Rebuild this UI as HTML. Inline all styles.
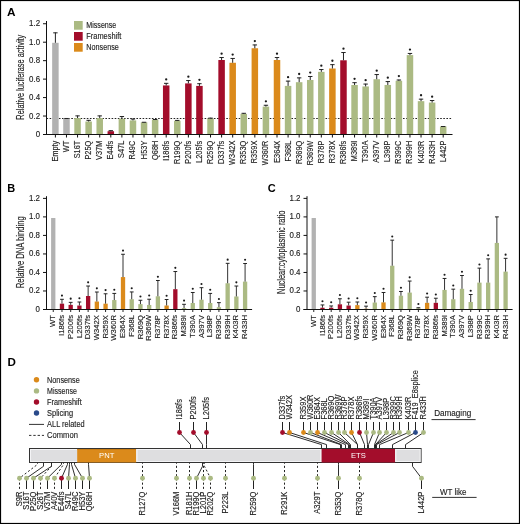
<!DOCTYPE html>
<html><head><meta charset="utf-8"><style>
html,body{margin:0;padding:0;background:#fff;}
body{width:520px;height:524px;overflow:hidden;}
svg{display:block;font-family:"Liberation Sans", sans-serif;will-change:transform;}
text{stroke-width:0.14px;}
</style></head><body>
<svg width="520" height="524" viewBox="0 0 520 524">
<rect x="0" y="0" width="520" height="524" fill="#fff"/>
<text x="6.90" y="16.40" font-size="11.8" text-anchor="start" font-weight="bold" fill="#000" stroke="none">A</text>
<line x1="46.50" y1="21.00" x2="46.50" y2="135.00" stroke="#111" stroke-width="1"/>
<line x1="43.00" y1="134.50" x2="46.50" y2="134.50" stroke="#111" stroke-width="1"/>
<text x="40.10" y="137.00" font-size="8.6" text-anchor="end" font-weight="normal" fill="#222" stroke="#222" textLength="4.39" lengthAdjust="spacingAndGlyphs">0</text>
<line x1="43.00" y1="116.04" x2="46.50" y2="116.04" stroke="#111" stroke-width="1"/>
<text x="40.10" y="118.54" font-size="8.6" text-anchor="end" font-weight="normal" fill="#222" stroke="#222" textLength="10.98" lengthAdjust="spacingAndGlyphs">0.2</text>
<line x1="43.00" y1="97.58" x2="46.50" y2="97.58" stroke="#111" stroke-width="1"/>
<text x="40.10" y="100.08" font-size="8.6" text-anchor="end" font-weight="normal" fill="#222" stroke="#222" textLength="10.98" lengthAdjust="spacingAndGlyphs">0.4</text>
<line x1="43.00" y1="79.12" x2="46.50" y2="79.12" stroke="#111" stroke-width="1"/>
<text x="40.10" y="81.62" font-size="8.6" text-anchor="end" font-weight="normal" fill="#222" stroke="#222" textLength="10.98" lengthAdjust="spacingAndGlyphs">0.6</text>
<line x1="43.00" y1="60.66" x2="46.50" y2="60.66" stroke="#111" stroke-width="1"/>
<text x="40.10" y="63.16" font-size="8.6" text-anchor="end" font-weight="normal" fill="#222" stroke="#222" textLength="10.98" lengthAdjust="spacingAndGlyphs">0.8</text>
<line x1="43.00" y1="42.20" x2="46.50" y2="42.20" stroke="#111" stroke-width="1"/>
<text x="40.10" y="44.70" font-size="8.6" text-anchor="end" font-weight="normal" fill="#222" stroke="#222" textLength="10.98" lengthAdjust="spacingAndGlyphs">1.0</text>
<line x1="43.00" y1="23.74" x2="46.50" y2="23.74" stroke="#111" stroke-width="1"/>
<text x="40.10" y="26.24" font-size="8.6" text-anchor="end" font-weight="normal" fill="#222" stroke="#222" textLength="10.98" lengthAdjust="spacingAndGlyphs">1.2</text>
<text transform="translate(24.20,77.20) rotate(-90)" font-size="10" text-anchor="middle" font-weight="normal" fill="#222" stroke="#222" textLength="85" lengthAdjust="spacingAndGlyphs">Relative luciferase activity</text>
<line x1="46.50" y1="118.50" x2="452.00" y2="118.50" stroke="#222" stroke-width="1" stroke-dasharray="1.6 1.5"/>
<rect x="52.15" y="42.80" width="6.50" height="91.20" fill="#B2B2B2"/>
<line x1="55.40" y1="32.53" x2="55.40" y2="42.80" stroke="#222" stroke-width="1"/>
<line x1="53.20" y1="32.83" x2="57.60" y2="32.83" stroke="#222" stroke-width="1"/>
<line x1="55.40" y1="134.50" x2="55.40" y2="137.50" stroke="#111" stroke-width="1"/>
<text transform="translate(57.90,140.70) rotate(-90)" font-size="8.8" text-anchor="end" font-weight="normal" fill="#222" stroke="#222" textLength="20.91" lengthAdjust="spacingAndGlyphs">Empty</text>
<rect x="63.23" y="118.46" width="6.50" height="15.54" fill="#B2B2B2"/>
<line x1="64.28" y1="118.48" x2="68.68" y2="118.48" stroke="#222" stroke-width="1"/>
<line x1="66.48" y1="134.50" x2="66.48" y2="137.50" stroke="#111" stroke-width="1"/>
<text transform="translate(68.98,140.70) rotate(-90)" font-size="8.8" text-anchor="end" font-weight="normal" fill="#222" stroke="#222" textLength="11.47" lengthAdjust="spacingAndGlyphs">WT</text>
<rect x="74.31" y="118.09" width="6.50" height="15.91" fill="#ABBA83"/>
<line x1="77.56" y1="115.59" x2="77.56" y2="118.09" stroke="#222" stroke-width="1"/>
<line x1="75.36" y1="115.89" x2="79.76" y2="115.89" stroke="#222" stroke-width="1"/>
<line x1="77.56" y1="134.50" x2="77.56" y2="137.50" stroke="#111" stroke-width="1"/>
<text transform="translate(80.06,140.70) rotate(-90)" font-size="8.8" text-anchor="end" font-weight="normal" fill="#222" stroke="#222" textLength="17.64" lengthAdjust="spacingAndGlyphs">S16T</text>
<rect x="85.39" y="121.51" width="6.50" height="12.49" fill="#ABBA83"/>
<line x1="88.64" y1="120.03" x2="88.64" y2="121.51" stroke="#222" stroke-width="1"/>
<line x1="86.44" y1="120.33" x2="90.84" y2="120.33" stroke="#222" stroke-width="1"/>
<line x1="88.64" y1="134.50" x2="88.64" y2="137.50" stroke="#111" stroke-width="1"/>
<text transform="translate(91.14,140.70) rotate(-90)" font-size="8.8" text-anchor="end" font-weight="normal" fill="#222" stroke="#222" textLength="18.87" lengthAdjust="spacingAndGlyphs">P25Q</text>
<rect x="96.47" y="118.09" width="6.50" height="15.91" fill="#ABBA83"/>
<line x1="99.72" y1="115.59" x2="99.72" y2="118.09" stroke="#222" stroke-width="1"/>
<line x1="97.52" y1="115.89" x2="101.92" y2="115.89" stroke="#222" stroke-width="1"/>
<line x1="99.72" y1="134.50" x2="99.72" y2="137.50" stroke="#111" stroke-width="1"/>
<text transform="translate(102.22,140.70) rotate(-90)" font-size="8.8" text-anchor="end" font-weight="normal" fill="#222" stroke="#222" textLength="19.28" lengthAdjust="spacingAndGlyphs">V37M</text>
<rect x="107.55" y="131.22" width="6.50" height="2.78" fill="#A30D2B"/>
<line x1="110.80" y1="130.39" x2="110.80" y2="131.22" stroke="#222" stroke-width="1"/>
<line x1="108.60" y1="130.69" x2="113.00" y2="130.69" stroke="#222" stroke-width="1"/>
<line x1="110.80" y1="134.50" x2="110.80" y2="137.50" stroke="#111" stroke-width="1"/>
<text transform="translate(113.30,140.70) rotate(-90)" font-size="8.8" text-anchor="end" font-weight="normal" fill="#222" stroke="#222" textLength="18.87" lengthAdjust="spacingAndGlyphs">E44fs</text>
<rect x="118.63" y="118.74" width="6.50" height="15.26" fill="#ABBA83"/>
<line x1="121.88" y1="116.24" x2="121.88" y2="118.74" stroke="#222" stroke-width="1"/>
<line x1="119.68" y1="116.54" x2="124.08" y2="116.54" stroke="#222" stroke-width="1"/>
<line x1="121.88" y1="134.50" x2="121.88" y2="137.50" stroke="#111" stroke-width="1"/>
<text transform="translate(124.38,140.70) rotate(-90)" font-size="8.8" text-anchor="end" font-weight="normal" fill="#222" stroke="#222" textLength="17.23" lengthAdjust="spacingAndGlyphs">S47L</text>
<rect x="129.71" y="120.40" width="6.50" height="13.60" fill="#ABBA83"/>
<line x1="132.96" y1="118.74" x2="132.96" y2="120.40" stroke="#222" stroke-width="1"/>
<line x1="130.76" y1="119.04" x2="135.16" y2="119.04" stroke="#222" stroke-width="1"/>
<line x1="132.96" y1="134.50" x2="132.96" y2="137.50" stroke="#111" stroke-width="1"/>
<text transform="translate(135.46,140.70) rotate(-90)" font-size="8.8" text-anchor="end" font-weight="normal" fill="#222" stroke="#222" textLength="18.87" lengthAdjust="spacingAndGlyphs">R49C</text>
<rect x="140.79" y="122.34" width="6.50" height="11.66" fill="#ABBA83"/>
<line x1="144.04" y1="121.97" x2="144.04" y2="122.34" stroke="#222" stroke-width="1"/>
<line x1="141.84" y1="122.27" x2="146.24" y2="122.27" stroke="#222" stroke-width="1"/>
<line x1="144.04" y1="134.50" x2="144.04" y2="137.50" stroke="#111" stroke-width="1"/>
<text transform="translate(146.54,140.70) rotate(-90)" font-size="8.8" text-anchor="end" font-weight="normal" fill="#222" stroke="#222" textLength="18.46" lengthAdjust="spacingAndGlyphs">H53Y</text>
<rect x="151.87" y="119.66" width="6.50" height="14.34" fill="#ABBA83"/>
<line x1="155.12" y1="119.20" x2="155.12" y2="119.66" stroke="#222" stroke-width="1"/>
<line x1="152.92" y1="119.50" x2="157.32" y2="119.50" stroke="#222" stroke-width="1"/>
<line x1="155.12" y1="134.50" x2="155.12" y2="137.50" stroke="#111" stroke-width="1"/>
<text transform="translate(157.62,140.70) rotate(-90)" font-size="8.8" text-anchor="end" font-weight="normal" fill="#222" stroke="#222" textLength="19.28" lengthAdjust="spacingAndGlyphs">Q68H</text>
<rect x="162.95" y="85.44" width="6.50" height="48.56" fill="#A30D2B"/>
<line x1="166.20" y1="83.03" x2="166.20" y2="85.44" stroke="#222" stroke-width="1"/>
<line x1="164.00" y1="83.33" x2="168.40" y2="83.33" stroke="#222" stroke-width="1"/>
<circle cx="166.20" cy="79.43" r="1.15" fill="#1a1a1a"/>
<line x1="166.20" y1="134.50" x2="166.20" y2="137.50" stroke="#111" stroke-width="1"/>
<text transform="translate(168.70,140.70) rotate(-90)" font-size="8.8" text-anchor="end" font-weight="normal" fill="#222" stroke="#222" textLength="20.1" lengthAdjust="spacingAndGlyphs">I186fs</text>
<rect x="174.03" y="120.77" width="6.50" height="13.23" fill="#ABBA83"/>
<line x1="177.28" y1="120.12" x2="177.28" y2="120.77" stroke="#222" stroke-width="1"/>
<line x1="175.08" y1="120.42" x2="179.48" y2="120.42" stroke="#222" stroke-width="1"/>
<line x1="177.28" y1="134.50" x2="177.28" y2="137.50" stroke="#111" stroke-width="1"/>
<text transform="translate(179.78,140.70) rotate(-90)" font-size="8.8" text-anchor="end" font-weight="normal" fill="#222" stroke="#222" textLength="23.38" lengthAdjust="spacingAndGlyphs">R199Q</text>
<rect x="185.11" y="83.40" width="6.50" height="50.60" fill="#A30D2B"/>
<line x1="188.36" y1="80.26" x2="188.36" y2="83.40" stroke="#222" stroke-width="1"/>
<line x1="186.16" y1="80.56" x2="190.56" y2="80.56" stroke="#222" stroke-width="1"/>
<circle cx="188.36" cy="76.66" r="1.15" fill="#1a1a1a"/>
<line x1="188.36" y1="134.50" x2="188.36" y2="137.50" stroke="#111" stroke-width="1"/>
<text transform="translate(190.86,140.70) rotate(-90)" font-size="8.8" text-anchor="end" font-weight="normal" fill="#222" stroke="#222" textLength="22.97" lengthAdjust="spacingAndGlyphs">P200fs</text>
<rect x="196.19" y="85.90" width="6.50" height="48.10" fill="#A30D2B"/>
<line x1="199.44" y1="83.40" x2="199.44" y2="85.90" stroke="#222" stroke-width="1"/>
<line x1="197.24" y1="83.70" x2="201.64" y2="83.70" stroke="#222" stroke-width="1"/>
<circle cx="199.44" cy="79.80" r="1.15" fill="#1a1a1a"/>
<line x1="199.44" y1="134.50" x2="199.44" y2="137.50" stroke="#111" stroke-width="1"/>
<text transform="translate(201.94,140.70) rotate(-90)" font-size="8.8" text-anchor="end" font-weight="normal" fill="#222" stroke="#222" textLength="22.16" lengthAdjust="spacingAndGlyphs">L205fs</text>
<rect x="207.27" y="118.46" width="6.50" height="15.54" fill="#ABBA83"/>
<line x1="210.52" y1="117.81" x2="210.52" y2="118.46" stroke="#222" stroke-width="1"/>
<line x1="208.32" y1="118.11" x2="212.72" y2="118.11" stroke="#222" stroke-width="1"/>
<line x1="210.52" y1="134.50" x2="210.52" y2="137.50" stroke="#111" stroke-width="1"/>
<text transform="translate(213.02,140.70) rotate(-90)" font-size="8.8" text-anchor="end" font-weight="normal" fill="#222" stroke="#222" textLength="23.38" lengthAdjust="spacingAndGlyphs">R259Q</text>
<rect x="218.35" y="60.00" width="6.50" height="74.00" fill="#A30D2B"/>
<line x1="221.60" y1="57.23" x2="221.60" y2="60.00" stroke="#222" stroke-width="1"/>
<line x1="219.40" y1="57.53" x2="223.80" y2="57.53" stroke="#222" stroke-width="1"/>
<circle cx="221.60" cy="53.63" r="1.15" fill="#1a1a1a"/>
<line x1="221.60" y1="134.50" x2="221.60" y2="137.50" stroke="#111" stroke-width="1"/>
<text transform="translate(224.10,140.70) rotate(-90)" font-size="8.8" text-anchor="end" font-weight="normal" fill="#222" stroke="#222" textLength="23.38" lengthAdjust="spacingAndGlyphs">D337fs</text>
<rect x="229.43" y="62.77" width="6.50" height="71.23" fill="#DB8A1B"/>
<line x1="232.68" y1="58.15" x2="232.68" y2="62.77" stroke="#222" stroke-width="1"/>
<line x1="230.48" y1="58.45" x2="234.88" y2="58.45" stroke="#222" stroke-width="1"/>
<circle cx="232.68" cy="54.55" r="1.15" fill="#1a1a1a"/>
<line x1="232.68" y1="134.50" x2="232.68" y2="137.50" stroke="#111" stroke-width="1"/>
<text transform="translate(235.18,140.70) rotate(-90)" font-size="8.8" text-anchor="end" font-weight="normal" fill="#222" stroke="#222" textLength="24.2" lengthAdjust="spacingAndGlyphs">W342X</text>
<rect x="240.51" y="113.84" width="6.50" height="20.16" fill="#ABBA83"/>
<line x1="243.76" y1="113.00" x2="243.76" y2="113.84" stroke="#222" stroke-width="1"/>
<line x1="241.56" y1="113.30" x2="245.96" y2="113.30" stroke="#222" stroke-width="1"/>
<line x1="243.76" y1="134.50" x2="243.76" y2="137.50" stroke="#111" stroke-width="1"/>
<text transform="translate(246.26,140.70) rotate(-90)" font-size="8.8" text-anchor="end" font-weight="normal" fill="#222" stroke="#222" textLength="23.38" lengthAdjust="spacingAndGlyphs">R353Q</text>
<rect x="251.59" y="48.25" width="6.50" height="85.75" fill="#DB8A1B"/>
<line x1="254.84" y1="44.64" x2="254.84" y2="48.25" stroke="#222" stroke-width="1"/>
<line x1="252.64" y1="44.94" x2="257.04" y2="44.94" stroke="#222" stroke-width="1"/>
<circle cx="254.84" cy="41.04" r="1.15" fill="#1a1a1a"/>
<line x1="254.84" y1="134.50" x2="254.84" y2="137.50" stroke="#111" stroke-width="1"/>
<text transform="translate(257.34,140.70) rotate(-90)" font-size="8.8" text-anchor="end" font-weight="normal" fill="#222" stroke="#222" textLength="22.56" lengthAdjust="spacingAndGlyphs">R359X</text>
<rect x="262.67" y="106.62" width="6.50" height="27.38" fill="#ABBA83"/>
<line x1="265.92" y1="104.95" x2="265.92" y2="106.62" stroke="#222" stroke-width="1"/>
<line x1="263.72" y1="105.25" x2="268.12" y2="105.25" stroke="#222" stroke-width="1"/>
<circle cx="265.92" cy="101.36" r="1.15" fill="#1a1a1a"/>
<line x1="265.92" y1="134.50" x2="265.92" y2="137.50" stroke="#111" stroke-width="1"/>
<text transform="translate(268.42,140.70) rotate(-90)" font-size="8.8" text-anchor="end" font-weight="normal" fill="#222" stroke="#222" textLength="24.61" lengthAdjust="spacingAndGlyphs">W360R</text>
<rect x="273.75" y="60.00" width="6.50" height="74.00" fill="#DB8A1B"/>
<line x1="277.00" y1="57.23" x2="277.00" y2="60.00" stroke="#222" stroke-width="1"/>
<line x1="274.80" y1="57.53" x2="279.20" y2="57.53" stroke="#222" stroke-width="1"/>
<circle cx="277.00" cy="53.63" r="1.15" fill="#1a1a1a"/>
<line x1="277.00" y1="134.50" x2="277.00" y2="137.50" stroke="#111" stroke-width="1"/>
<text transform="translate(279.50,140.70) rotate(-90)" font-size="8.8" text-anchor="end" font-weight="normal" fill="#222" stroke="#222" textLength="22.16" lengthAdjust="spacingAndGlyphs">E364X</text>
<rect x="284.83" y="85.90" width="6.50" height="48.10" fill="#ABBA83"/>
<line x1="288.08" y1="80.81" x2="288.08" y2="85.90" stroke="#222" stroke-width="1"/>
<line x1="285.88" y1="81.11" x2="290.28" y2="81.11" stroke="#222" stroke-width="1"/>
<circle cx="288.08" cy="77.21" r="1.15" fill="#1a1a1a"/>
<line x1="288.08" y1="134.50" x2="288.08" y2="137.50" stroke="#111" stroke-width="1"/>
<text transform="translate(290.58,140.70) rotate(-90)" font-size="8.8" text-anchor="end" font-weight="normal" fill="#222" stroke="#222" textLength="20.92" lengthAdjust="spacingAndGlyphs">F368L</text>
<rect x="295.91" y="82.20" width="6.50" height="51.80" fill="#ABBA83"/>
<line x1="299.16" y1="77.58" x2="299.16" y2="82.20" stroke="#222" stroke-width="1"/>
<line x1="296.96" y1="77.88" x2="301.36" y2="77.88" stroke="#222" stroke-width="1"/>
<circle cx="299.16" cy="73.98" r="1.15" fill="#1a1a1a"/>
<line x1="299.16" y1="134.50" x2="299.16" y2="137.50" stroke="#111" stroke-width="1"/>
<text transform="translate(301.66,140.70) rotate(-90)" font-size="8.8" text-anchor="end" font-weight="normal" fill="#222" stroke="#222" textLength="23.38" lengthAdjust="spacingAndGlyphs">R369Q</text>
<rect x="306.99" y="79.98" width="6.50" height="54.02" fill="#ABBA83"/>
<line x1="310.24" y1="76.19" x2="310.24" y2="79.98" stroke="#222" stroke-width="1"/>
<line x1="308.04" y1="76.49" x2="312.44" y2="76.49" stroke="#222" stroke-width="1"/>
<circle cx="310.24" cy="72.59" r="1.15" fill="#1a1a1a"/>
<line x1="310.24" y1="134.50" x2="310.24" y2="137.50" stroke="#111" stroke-width="1"/>
<text transform="translate(312.74,140.70) rotate(-90)" font-size="8.8" text-anchor="end" font-weight="normal" fill="#222" stroke="#222" textLength="24.61" lengthAdjust="spacingAndGlyphs">R369W</text>
<rect x="318.07" y="71.84" width="6.50" height="62.16" fill="#ABBA83"/>
<line x1="321.32" y1="69.25" x2="321.32" y2="71.84" stroke="#222" stroke-width="1"/>
<line x1="319.12" y1="69.55" x2="323.52" y2="69.55" stroke="#222" stroke-width="1"/>
<circle cx="321.32" cy="65.65" r="1.15" fill="#1a1a1a"/>
<line x1="321.32" y1="134.50" x2="321.32" y2="137.50" stroke="#111" stroke-width="1"/>
<text transform="translate(323.82,140.70) rotate(-90)" font-size="8.8" text-anchor="end" font-weight="normal" fill="#222" stroke="#222" textLength="22.56" lengthAdjust="spacingAndGlyphs">R378P</text>
<rect x="329.15" y="68.51" width="6.50" height="65.49" fill="#DB8A1B"/>
<line x1="332.40" y1="64.35" x2="332.40" y2="68.51" stroke="#222" stroke-width="1"/>
<line x1="330.20" y1="64.65" x2="334.60" y2="64.65" stroke="#222" stroke-width="1"/>
<circle cx="332.40" cy="60.75" r="1.15" fill="#1a1a1a"/>
<line x1="332.40" y1="134.50" x2="332.40" y2="137.50" stroke="#111" stroke-width="1"/>
<text transform="translate(334.90,140.70) rotate(-90)" font-size="8.8" text-anchor="end" font-weight="normal" fill="#222" stroke="#222" textLength="22.56" lengthAdjust="spacingAndGlyphs">R378X</text>
<rect x="340.23" y="60.28" width="6.50" height="73.72" fill="#A30D2B"/>
<line x1="343.48" y1="52.23" x2="343.48" y2="60.28" stroke="#222" stroke-width="1"/>
<line x1="341.28" y1="52.53" x2="345.68" y2="52.53" stroke="#222" stroke-width="1"/>
<circle cx="343.48" cy="48.63" r="1.15" fill="#1a1a1a"/>
<line x1="343.48" y1="134.50" x2="343.48" y2="137.50" stroke="#111" stroke-width="1"/>
<text transform="translate(345.98,140.70) rotate(-90)" font-size="8.8" text-anchor="end" font-weight="normal" fill="#222" stroke="#222" textLength="23.38" lengthAdjust="spacingAndGlyphs">R386fs</text>
<rect x="351.31" y="84.97" width="6.50" height="49.03" fill="#ABBA83"/>
<line x1="354.56" y1="82.38" x2="354.56" y2="84.97" stroke="#222" stroke-width="1"/>
<line x1="352.36" y1="82.68" x2="356.76" y2="82.68" stroke="#222" stroke-width="1"/>
<circle cx="354.56" cy="78.78" r="1.15" fill="#1a1a1a"/>
<line x1="354.56" y1="134.50" x2="354.56" y2="137.50" stroke="#111" stroke-width="1"/>
<text transform="translate(357.06,140.70) rotate(-90)" font-size="8.8" text-anchor="end" font-weight="normal" fill="#222" stroke="#222" textLength="20.51" lengthAdjust="spacingAndGlyphs">M389I</text>
<rect x="362.39" y="86.45" width="6.50" height="47.55" fill="#ABBA83"/>
<line x1="365.64" y1="83.77" x2="365.64" y2="86.45" stroke="#222" stroke-width="1"/>
<line x1="363.44" y1="84.07" x2="367.84" y2="84.07" stroke="#222" stroke-width="1"/>
<circle cx="365.64" cy="80.17" r="1.15" fill="#1a1a1a"/>
<line x1="365.64" y1="134.50" x2="365.64" y2="137.50" stroke="#111" stroke-width="1"/>
<text transform="translate(368.14,140.70) rotate(-90)" font-size="8.8" text-anchor="end" font-weight="normal" fill="#222" stroke="#222" textLength="21.74" lengthAdjust="spacingAndGlyphs">T390A</text>
<rect x="373.47" y="79.24" width="6.50" height="54.76" fill="#ABBA83"/>
<line x1="376.72" y1="74.25" x2="376.72" y2="79.24" stroke="#222" stroke-width="1"/>
<line x1="374.52" y1="74.55" x2="378.92" y2="74.55" stroke="#222" stroke-width="1"/>
<circle cx="376.72" cy="70.65" r="1.15" fill="#1a1a1a"/>
<line x1="376.72" y1="134.50" x2="376.72" y2="137.50" stroke="#111" stroke-width="1"/>
<text transform="translate(379.22,140.70) rotate(-90)" font-size="8.8" text-anchor="end" font-weight="normal" fill="#222" stroke="#222" textLength="22.16" lengthAdjust="spacingAndGlyphs">A397V</text>
<rect x="384.55" y="84.97" width="6.50" height="49.03" fill="#ABBA83"/>
<line x1="387.80" y1="81.28" x2="387.80" y2="84.97" stroke="#222" stroke-width="1"/>
<line x1="385.60" y1="81.58" x2="390.00" y2="81.58" stroke="#222" stroke-width="1"/>
<circle cx="387.80" cy="77.68" r="1.15" fill="#1a1a1a"/>
<line x1="387.80" y1="134.50" x2="387.80" y2="137.50" stroke="#111" stroke-width="1"/>
<text transform="translate(390.30,140.70) rotate(-90)" font-size="8.8" text-anchor="end" font-weight="normal" fill="#222" stroke="#222" textLength="21.34" lengthAdjust="spacingAndGlyphs">L398P</text>
<rect x="395.63" y="80.81" width="6.50" height="53.19" fill="#ABBA83"/>
<line x1="398.88" y1="79.70" x2="398.88" y2="80.81" stroke="#222" stroke-width="1"/>
<line x1="396.68" y1="80.00" x2="401.08" y2="80.00" stroke="#222" stroke-width="1"/>
<circle cx="398.88" cy="76.10" r="1.15" fill="#1a1a1a"/>
<line x1="398.88" y1="134.50" x2="398.88" y2="137.50" stroke="#111" stroke-width="1"/>
<text transform="translate(401.38,140.70) rotate(-90)" font-size="8.8" text-anchor="end" font-weight="normal" fill="#222" stroke="#222" textLength="22.97" lengthAdjust="spacingAndGlyphs">R399C</text>
<rect x="406.71" y="55.10" width="6.50" height="78.90" fill="#ABBA83"/>
<line x1="409.96" y1="53.16" x2="409.96" y2="55.10" stroke="#222" stroke-width="1"/>
<line x1="407.76" y1="53.45" x2="412.16" y2="53.45" stroke="#222" stroke-width="1"/>
<circle cx="409.96" cy="49.55" r="1.15" fill="#1a1a1a"/>
<line x1="409.96" y1="134.50" x2="409.96" y2="137.50" stroke="#111" stroke-width="1"/>
<text transform="translate(412.46,140.70) rotate(-90)" font-size="8.8" text-anchor="end" font-weight="normal" fill="#222" stroke="#222" textLength="22.97" lengthAdjust="spacingAndGlyphs">R399H</text>
<rect x="417.79" y="101.16" width="6.50" height="32.84" fill="#ABBA83"/>
<line x1="421.04" y1="98.85" x2="421.04" y2="101.16" stroke="#222" stroke-width="1"/>
<line x1="418.84" y1="99.15" x2="423.24" y2="99.15" stroke="#222" stroke-width="1"/>
<circle cx="421.04" cy="95.25" r="1.15" fill="#1a1a1a"/>
<line x1="421.04" y1="134.50" x2="421.04" y2="137.50" stroke="#111" stroke-width="1"/>
<text transform="translate(423.54,140.70) rotate(-90)" font-size="8.8" text-anchor="end" font-weight="normal" fill="#222" stroke="#222" textLength="22.56" lengthAdjust="spacingAndGlyphs">K403R</text>
<rect x="428.87" y="102.55" width="6.50" height="31.45" fill="#ABBA83"/>
<line x1="432.12" y1="100.24" x2="432.12" y2="102.55" stroke="#222" stroke-width="1"/>
<line x1="429.92" y1="100.54" x2="434.32" y2="100.54" stroke="#222" stroke-width="1"/>
<circle cx="432.12" cy="96.64" r="1.15" fill="#1a1a1a"/>
<line x1="432.12" y1="134.50" x2="432.12" y2="137.50" stroke="#111" stroke-width="1"/>
<text transform="translate(434.62,140.70) rotate(-90)" font-size="8.8" text-anchor="end" font-weight="normal" fill="#222" stroke="#222" textLength="22.97" lengthAdjust="spacingAndGlyphs">R433H</text>
<rect x="439.95" y="126.42" width="6.50" height="7.58" fill="#ABBA83"/>
<line x1="441.00" y1="126.53" x2="445.40" y2="126.53" stroke="#222" stroke-width="1"/>
<line x1="443.20" y1="134.50" x2="443.20" y2="137.50" stroke="#111" stroke-width="1"/>
<text transform="translate(445.70,140.70) rotate(-90)" font-size="8.8" text-anchor="end" font-weight="normal" fill="#222" stroke="#222" textLength="21.34" lengthAdjust="spacingAndGlyphs">L442P</text>
<line x1="43.00" y1="134.50" x2="452.50" y2="134.50" stroke="#111" stroke-width="1"/>
<rect x="74.00" y="21.00" width="8.70" height="8.70" fill="#ABBA83"/>
<text x="86.30" y="28.10" font-size="8.7" text-anchor="start" font-weight="normal" fill="#222" stroke="#222" textLength="30" lengthAdjust="spacingAndGlyphs">Missense</text>
<rect x="74.00" y="32.00" width="8.70" height="8.70" fill="#A30D2B"/>
<text x="86.30" y="39.10" font-size="8.7" text-anchor="start" font-weight="normal" fill="#222" stroke="#222" textLength="35" lengthAdjust="spacingAndGlyphs">Frameshift</text>
<rect x="74.00" y="43.00" width="8.70" height="8.70" fill="#DB8A1B"/>
<text x="86.30" y="50.10" font-size="8.7" text-anchor="start" font-weight="normal" fill="#222" stroke="#222" textLength="32.5" lengthAdjust="spacingAndGlyphs">Nonsense</text>
<text x="7.20" y="191.60" font-size="11" text-anchor="start" font-weight="bold" fill="#000" stroke="none">B</text>
<line x1="46.50" y1="196.20" x2="46.50" y2="310.00" stroke="#111" stroke-width="1"/>
<line x1="43.00" y1="309.50" x2="46.50" y2="309.50" stroke="#111" stroke-width="1"/>
<text x="40.00" y="311.90" font-size="8.6" text-anchor="end" font-weight="normal" fill="#222" stroke="#222" textLength="4.39" lengthAdjust="spacingAndGlyphs">0</text>
<line x1="43.00" y1="290.98" x2="46.50" y2="290.98" stroke="#111" stroke-width="1"/>
<text x="40.00" y="293.38" font-size="8.6" text-anchor="end" font-weight="normal" fill="#222" stroke="#222" textLength="10.98" lengthAdjust="spacingAndGlyphs">0.2</text>
<line x1="43.00" y1="272.46" x2="46.50" y2="272.46" stroke="#111" stroke-width="1"/>
<text x="40.00" y="274.86" font-size="8.6" text-anchor="end" font-weight="normal" fill="#222" stroke="#222" textLength="10.98" lengthAdjust="spacingAndGlyphs">0.4</text>
<line x1="43.00" y1="253.94" x2="46.50" y2="253.94" stroke="#111" stroke-width="1"/>
<text x="40.00" y="256.34" font-size="8.6" text-anchor="end" font-weight="normal" fill="#222" stroke="#222" textLength="10.98" lengthAdjust="spacingAndGlyphs">0.6</text>
<line x1="43.00" y1="235.42" x2="46.50" y2="235.42" stroke="#111" stroke-width="1"/>
<text x="40.00" y="237.82" font-size="8.6" text-anchor="end" font-weight="normal" fill="#222" stroke="#222" textLength="10.98" lengthAdjust="spacingAndGlyphs">0.8</text>
<line x1="43.00" y1="216.90" x2="46.50" y2="216.90" stroke="#111" stroke-width="1"/>
<text x="40.00" y="219.30" font-size="8.6" text-anchor="end" font-weight="normal" fill="#222" stroke="#222" textLength="10.98" lengthAdjust="spacingAndGlyphs">1.0</text>
<line x1="43.00" y1="198.38" x2="46.50" y2="198.38" stroke="#111" stroke-width="1"/>
<text x="40.00" y="200.78" font-size="8.6" text-anchor="end" font-weight="normal" fill="#222" stroke="#222" textLength="10.98" lengthAdjust="spacingAndGlyphs">1.2</text>
<text transform="translate(24.20,252.30) rotate(-90)" font-size="10" text-anchor="middle" font-weight="normal" fill="#222" stroke="#222" textLength="71.8" lengthAdjust="spacingAndGlyphs">Relative DNA binding</text>
<rect x="51.10" y="218.01" width="4.30" height="90.99" fill="#B2B2B2"/>
<line x1="53.25" y1="309.50" x2="53.25" y2="312.00" stroke="#111" stroke-width="0.9"/>
<text transform="translate(55.35,315.00) rotate(-90)" font-size="7.7" text-anchor="end" font-weight="normal" fill="#222" stroke="#222">WT</text>
<rect x="59.82" y="303.66" width="4.30" height="5.34" fill="#A30D2B"/>
<line x1="61.97" y1="299.32" x2="61.97" y2="303.66" stroke="#333" stroke-width="1"/>
<line x1="60.07" y1="299.32" x2="63.87" y2="299.32" stroke="#222" stroke-width="1"/>
<circle cx="61.97" cy="295.62" r="1.05" fill="#1a1a1a"/>
<line x1="61.97" y1="309.50" x2="61.97" y2="312.00" stroke="#111" stroke-width="0.9"/>
<text transform="translate(64.07,315.00) rotate(-90)" font-size="7.7" text-anchor="end" font-weight="normal" fill="#222" stroke="#222">I186fs</text>
<rect x="68.54" y="304.86" width="4.30" height="4.14" fill="#A30D2B"/>
<line x1="70.69" y1="302.37" x2="70.69" y2="304.86" stroke="#333" stroke-width="1"/>
<line x1="68.79" y1="302.37" x2="72.59" y2="302.37" stroke="#222" stroke-width="1"/>
<circle cx="70.69" cy="298.67" r="1.05" fill="#1a1a1a"/>
<line x1="70.69" y1="309.50" x2="70.69" y2="312.00" stroke="#111" stroke-width="0.9"/>
<text transform="translate(72.79,315.00) rotate(-90)" font-size="7.7" text-anchor="end" font-weight="normal" fill="#222" stroke="#222">P200fs</text>
<rect x="77.26" y="305.51" width="4.30" height="3.49" fill="#A30D2B"/>
<line x1="79.41" y1="302.00" x2="79.41" y2="305.51" stroke="#333" stroke-width="1"/>
<line x1="77.51" y1="302.00" x2="81.31" y2="302.00" stroke="#222" stroke-width="1"/>
<circle cx="79.41" cy="298.30" r="1.05" fill="#1a1a1a"/>
<line x1="79.41" y1="309.50" x2="79.41" y2="312.00" stroke="#111" stroke-width="0.9"/>
<text transform="translate(81.51,315.00) rotate(-90)" font-size="7.7" text-anchor="end" font-weight="normal" fill="#222" stroke="#222">L205fs</text>
<rect x="85.98" y="296.00" width="4.30" height="13.00" fill="#A30D2B"/>
<line x1="88.13" y1="286.03" x2="88.13" y2="296.00" stroke="#333" stroke-width="1"/>
<line x1="86.23" y1="286.03" x2="90.03" y2="286.03" stroke="#222" stroke-width="1"/>
<circle cx="88.13" cy="282.33" r="1.05" fill="#1a1a1a"/>
<line x1="88.13" y1="309.50" x2="88.13" y2="312.00" stroke="#111" stroke-width="0.9"/>
<text transform="translate(90.23,315.00) rotate(-90)" font-size="7.7" text-anchor="end" font-weight="normal" fill="#222" stroke="#222">D337fs</text>
<rect x="94.70" y="301.54" width="4.30" height="7.46" fill="#DB8A1B"/>
<line x1="96.85" y1="292.03" x2="96.85" y2="301.54" stroke="#333" stroke-width="1"/>
<line x1="94.95" y1="292.03" x2="98.75" y2="292.03" stroke="#222" stroke-width="1"/>
<circle cx="96.85" cy="288.33" r="1.05" fill="#1a1a1a"/>
<line x1="96.85" y1="309.50" x2="96.85" y2="312.00" stroke="#111" stroke-width="0.9"/>
<text transform="translate(98.95,315.00) rotate(-90)" font-size="7.7" text-anchor="end" font-weight="normal" fill="#222" stroke="#222">W342X</text>
<rect x="103.42" y="303.66" width="4.30" height="5.34" fill="#DB8A1B"/>
<line x1="105.57" y1="293.79" x2="105.57" y2="303.66" stroke="#333" stroke-width="1"/>
<line x1="103.67" y1="293.79" x2="107.47" y2="293.79" stroke="#222" stroke-width="1"/>
<circle cx="105.57" cy="290.09" r="1.05" fill="#1a1a1a"/>
<line x1="105.57" y1="309.50" x2="105.57" y2="312.00" stroke="#111" stroke-width="0.9"/>
<text transform="translate(107.67,315.00) rotate(-90)" font-size="7.7" text-anchor="end" font-weight="normal" fill="#222" stroke="#222">R359X</text>
<rect x="112.14" y="300.06" width="4.30" height="8.94" fill="#ABBA83"/>
<line x1="114.29" y1="293.42" x2="114.29" y2="300.06" stroke="#333" stroke-width="1"/>
<line x1="112.39" y1="293.42" x2="116.19" y2="293.42" stroke="#222" stroke-width="1"/>
<circle cx="114.29" cy="289.72" r="1.05" fill="#1a1a1a"/>
<line x1="114.29" y1="309.50" x2="114.29" y2="312.00" stroke="#111" stroke-width="0.9"/>
<text transform="translate(116.39,315.00) rotate(-90)" font-size="7.7" text-anchor="end" font-weight="normal" fill="#222" stroke="#222">W360R</text>
<rect x="120.86" y="277.08" width="4.30" height="31.92" fill="#DB8A1B"/>
<line x1="123.01" y1="254.28" x2="123.01" y2="277.08" stroke="#333" stroke-width="1"/>
<line x1="121.11" y1="254.28" x2="124.91" y2="254.28" stroke="#222" stroke-width="1"/>
<circle cx="123.01" cy="250.58" r="1.05" fill="#1a1a1a"/>
<line x1="123.01" y1="309.50" x2="123.01" y2="312.00" stroke="#111" stroke-width="0.9"/>
<text transform="translate(125.11,315.00) rotate(-90)" font-size="7.7" text-anchor="end" font-weight="normal" fill="#222" stroke="#222">E364X</text>
<rect x="129.58" y="299.23" width="4.30" height="9.77" fill="#ABBA83"/>
<line x1="131.73" y1="291.94" x2="131.73" y2="299.23" stroke="#333" stroke-width="1"/>
<line x1="129.83" y1="291.94" x2="133.63" y2="291.94" stroke="#222" stroke-width="1"/>
<circle cx="131.73" cy="288.24" r="1.05" fill="#1a1a1a"/>
<line x1="131.73" y1="309.50" x2="131.73" y2="312.00" stroke="#111" stroke-width="0.9"/>
<text transform="translate(133.83,315.00) rotate(-90)" font-size="7.7" text-anchor="end" font-weight="normal" fill="#222" stroke="#222">F368L</text>
<rect x="138.30" y="304.12" width="4.30" height="4.88" fill="#ABBA83"/>
<line x1="140.45" y1="300.25" x2="140.45" y2="304.12" stroke="#333" stroke-width="1"/>
<line x1="138.55" y1="300.25" x2="142.35" y2="300.25" stroke="#222" stroke-width="1"/>
<circle cx="140.45" cy="296.55" r="1.05" fill="#1a1a1a"/>
<line x1="140.45" y1="309.50" x2="140.45" y2="312.00" stroke="#111" stroke-width="0.9"/>
<text transform="translate(142.55,315.00) rotate(-90)" font-size="7.7" text-anchor="end" font-weight="normal" fill="#222" stroke="#222">R369Q</text>
<rect x="147.02" y="304.95" width="4.30" height="4.05" fill="#ABBA83"/>
<line x1="149.17" y1="299.23" x2="149.17" y2="304.95" stroke="#333" stroke-width="1"/>
<line x1="147.27" y1="299.23" x2="151.07" y2="299.23" stroke="#222" stroke-width="1"/>
<circle cx="149.17" cy="295.53" r="1.05" fill="#1a1a1a"/>
<line x1="149.17" y1="309.50" x2="149.17" y2="312.00" stroke="#111" stroke-width="0.9"/>
<text transform="translate(151.27,315.00) rotate(-90)" font-size="7.7" text-anchor="end" font-weight="normal" fill="#222" stroke="#222">R369W</text>
<rect x="155.74" y="296.28" width="4.30" height="12.72" fill="#ABBA83"/>
<line x1="157.89" y1="280.49" x2="157.89" y2="296.28" stroke="#333" stroke-width="1"/>
<line x1="155.99" y1="280.49" x2="159.79" y2="280.49" stroke="#222" stroke-width="1"/>
<circle cx="157.89" cy="276.79" r="1.05" fill="#1a1a1a"/>
<line x1="157.89" y1="309.50" x2="157.89" y2="312.00" stroke="#111" stroke-width="0.9"/>
<text transform="translate(159.99,315.00) rotate(-90)" font-size="7.7" text-anchor="end" font-weight="normal" fill="#222" stroke="#222">R378P</text>
<rect x="164.46" y="305.51" width="4.30" height="3.49" fill="#DB8A1B"/>
<line x1="166.61" y1="299.51" x2="166.61" y2="305.51" stroke="#333" stroke-width="1"/>
<line x1="164.71" y1="299.51" x2="168.51" y2="299.51" stroke="#222" stroke-width="1"/>
<circle cx="166.61" cy="295.81" r="1.05" fill="#1a1a1a"/>
<line x1="166.61" y1="309.50" x2="166.61" y2="312.00" stroke="#111" stroke-width="0.9"/>
<text transform="translate(168.71,315.00) rotate(-90)" font-size="7.7" text-anchor="end" font-weight="normal" fill="#222" stroke="#222">R378X</text>
<rect x="173.18" y="289.17" width="4.30" height="19.83" fill="#A30D2B"/>
<line x1="175.33" y1="271.54" x2="175.33" y2="289.17" stroke="#333" stroke-width="1"/>
<line x1="173.43" y1="271.54" x2="177.23" y2="271.54" stroke="#222" stroke-width="1"/>
<circle cx="175.33" cy="267.84" r="1.05" fill="#1a1a1a"/>
<line x1="175.33" y1="309.50" x2="175.33" y2="312.00" stroke="#111" stroke-width="0.9"/>
<text transform="translate(177.43,315.00) rotate(-90)" font-size="7.7" text-anchor="end" font-weight="normal" fill="#222" stroke="#222">R386fs</text>
<rect x="181.90" y="308.09" width="4.30" height="0.91" fill="#ABBA83"/>
<line x1="184.05" y1="304.31" x2="184.05" y2="308.09" stroke="#333" stroke-width="1"/>
<line x1="182.15" y1="304.31" x2="185.95" y2="304.31" stroke="#222" stroke-width="1"/>
<circle cx="184.05" cy="300.61" r="1.05" fill="#1a1a1a"/>
<line x1="184.05" y1="309.50" x2="184.05" y2="312.00" stroke="#111" stroke-width="0.9"/>
<text transform="translate(186.15,315.00) rotate(-90)" font-size="7.7" text-anchor="end" font-weight="normal" fill="#222" stroke="#222">M389I</text>
<rect x="190.62" y="303.02" width="4.30" height="5.98" fill="#ABBA83"/>
<line x1="192.77" y1="292.49" x2="192.77" y2="303.02" stroke="#333" stroke-width="1"/>
<line x1="190.87" y1="292.49" x2="194.67" y2="292.49" stroke="#222" stroke-width="1"/>
<circle cx="192.77" cy="288.79" r="1.05" fill="#1a1a1a"/>
<line x1="192.77" y1="309.50" x2="192.77" y2="312.00" stroke="#111" stroke-width="0.9"/>
<text transform="translate(194.87,315.00) rotate(-90)" font-size="7.7" text-anchor="end" font-weight="normal" fill="#222" stroke="#222">T390A</text>
<rect x="199.34" y="299.69" width="4.30" height="9.31" fill="#ABBA83"/>
<line x1="201.49" y1="287.69" x2="201.49" y2="299.69" stroke="#333" stroke-width="1"/>
<line x1="199.59" y1="287.69" x2="203.39" y2="287.69" stroke="#222" stroke-width="1"/>
<circle cx="201.49" cy="283.99" r="1.05" fill="#1a1a1a"/>
<line x1="201.49" y1="309.50" x2="201.49" y2="312.00" stroke="#111" stroke-width="0.9"/>
<text transform="translate(203.59,315.00) rotate(-90)" font-size="7.7" text-anchor="end" font-weight="normal" fill="#222" stroke="#222">A397V</text>
<rect x="208.06" y="303.02" width="4.30" height="5.98" fill="#ABBA83"/>
<line x1="210.21" y1="293.42" x2="210.21" y2="303.02" stroke="#333" stroke-width="1"/>
<line x1="208.31" y1="293.42" x2="212.11" y2="293.42" stroke="#222" stroke-width="1"/>
<circle cx="210.21" cy="289.72" r="1.05" fill="#1a1a1a"/>
<line x1="210.21" y1="309.50" x2="210.21" y2="312.00" stroke="#111" stroke-width="0.9"/>
<text transform="translate(212.31,315.00) rotate(-90)" font-size="7.7" text-anchor="end" font-weight="normal" fill="#222" stroke="#222">L398P</text>
<rect x="216.78" y="307.17" width="4.30" height="1.83" fill="#ABBA83"/>
<line x1="218.93" y1="302.65" x2="218.93" y2="307.17" stroke="#333" stroke-width="1"/>
<line x1="217.03" y1="302.65" x2="220.83" y2="302.65" stroke="#222" stroke-width="1"/>
<circle cx="218.93" cy="298.95" r="1.05" fill="#1a1a1a"/>
<line x1="218.93" y1="309.50" x2="218.93" y2="312.00" stroke="#111" stroke-width="0.9"/>
<text transform="translate(221.03,315.00) rotate(-90)" font-size="7.7" text-anchor="end" font-weight="normal" fill="#222" stroke="#222">R399C</text>
<rect x="225.50" y="283.26" width="4.30" height="25.74" fill="#ABBA83"/>
<line x1="227.65" y1="263.33" x2="227.65" y2="283.26" stroke="#333" stroke-width="1"/>
<line x1="225.75" y1="263.33" x2="229.55" y2="263.33" stroke="#222" stroke-width="1"/>
<circle cx="227.65" cy="259.63" r="1.05" fill="#1a1a1a"/>
<line x1="227.65" y1="309.50" x2="227.65" y2="312.00" stroke="#111" stroke-width="0.9"/>
<text transform="translate(229.75,315.00) rotate(-90)" font-size="7.7" text-anchor="end" font-weight="normal" fill="#222" stroke="#222">R399H</text>
<rect x="234.22" y="296.46" width="4.30" height="12.54" fill="#ABBA83"/>
<line x1="236.37" y1="286.03" x2="236.37" y2="296.46" stroke="#333" stroke-width="1"/>
<line x1="234.47" y1="286.03" x2="238.27" y2="286.03" stroke="#222" stroke-width="1"/>
<circle cx="236.37" cy="282.33" r="1.05" fill="#1a1a1a"/>
<line x1="236.37" y1="309.50" x2="236.37" y2="312.00" stroke="#111" stroke-width="0.9"/>
<text transform="translate(238.47,315.00) rotate(-90)" font-size="7.7" text-anchor="end" font-weight="normal" fill="#222" stroke="#222">K403R</text>
<rect x="242.94" y="281.60" width="4.30" height="27.40" fill="#ABBA83"/>
<line x1="245.09" y1="263.51" x2="245.09" y2="281.60" stroke="#333" stroke-width="1"/>
<line x1="243.19" y1="263.51" x2="246.99" y2="263.51" stroke="#222" stroke-width="1"/>
<circle cx="245.09" cy="259.81" r="1.05" fill="#1a1a1a"/>
<line x1="245.09" y1="309.50" x2="245.09" y2="312.00" stroke="#111" stroke-width="0.9"/>
<text transform="translate(247.19,315.00) rotate(-90)" font-size="7.7" text-anchor="end" font-weight="normal" fill="#222" stroke="#222">R433H</text>
<line x1="43.00" y1="309.50" x2="252.10" y2="309.50" stroke="#111" stroke-width="1"/>
<text x="267.70" y="191.60" font-size="11" text-anchor="start" font-weight="bold" fill="#000" stroke="none">C</text>
<line x1="307.00" y1="196.20" x2="307.00" y2="310.00" stroke="#111" stroke-width="1"/>
<line x1="303.50" y1="309.50" x2="307.00" y2="309.50" stroke="#111" stroke-width="1"/>
<text x="300.50" y="311.90" font-size="8.6" text-anchor="end" font-weight="normal" fill="#222" stroke="#222" textLength="4.39" lengthAdjust="spacingAndGlyphs">0</text>
<line x1="303.50" y1="290.98" x2="307.00" y2="290.98" stroke="#111" stroke-width="1"/>
<text x="300.50" y="293.38" font-size="8.6" text-anchor="end" font-weight="normal" fill="#222" stroke="#222" textLength="10.98" lengthAdjust="spacingAndGlyphs">0.2</text>
<line x1="303.50" y1="272.46" x2="307.00" y2="272.46" stroke="#111" stroke-width="1"/>
<text x="300.50" y="274.86" font-size="8.6" text-anchor="end" font-weight="normal" fill="#222" stroke="#222" textLength="10.98" lengthAdjust="spacingAndGlyphs">0.4</text>
<line x1="303.50" y1="253.94" x2="307.00" y2="253.94" stroke="#111" stroke-width="1"/>
<text x="300.50" y="256.34" font-size="8.6" text-anchor="end" font-weight="normal" fill="#222" stroke="#222" textLength="10.98" lengthAdjust="spacingAndGlyphs">0.6</text>
<line x1="303.50" y1="235.42" x2="307.00" y2="235.42" stroke="#111" stroke-width="1"/>
<text x="300.50" y="237.82" font-size="8.6" text-anchor="end" font-weight="normal" fill="#222" stroke="#222" textLength="10.98" lengthAdjust="spacingAndGlyphs">0.8</text>
<line x1="303.50" y1="216.90" x2="307.00" y2="216.90" stroke="#111" stroke-width="1"/>
<text x="300.50" y="219.30" font-size="8.6" text-anchor="end" font-weight="normal" fill="#222" stroke="#222" textLength="10.98" lengthAdjust="spacingAndGlyphs">1.0</text>
<line x1="303.50" y1="198.38" x2="307.00" y2="198.38" stroke="#111" stroke-width="1"/>
<text x="300.50" y="200.78" font-size="8.6" text-anchor="end" font-weight="normal" fill="#222" stroke="#222" textLength="10.98" lengthAdjust="spacingAndGlyphs">1.2</text>
<text transform="translate(284.70,252.30) rotate(-90)" font-size="10" text-anchor="middle" font-weight="normal" fill="#222" stroke="#222" textLength="83.4" lengthAdjust="spacingAndGlyphs">Nuclear:cytoplasmic ratio</text>
<rect x="311.60" y="218.01" width="4.30" height="90.99" fill="#B2B2B2"/>
<line x1="313.75" y1="309.50" x2="313.75" y2="312.00" stroke="#111" stroke-width="0.9"/>
<text transform="translate(315.85,315.00) rotate(-90)" font-size="7.7" text-anchor="end" font-weight="normal" fill="#222" stroke="#222">WT</text>
<rect x="320.32" y="307.72" width="4.30" height="1.28" fill="#A30D2B"/>
<line x1="322.47" y1="304.95" x2="322.47" y2="307.72" stroke="#333" stroke-width="1"/>
<line x1="320.57" y1="304.95" x2="324.37" y2="304.95" stroke="#222" stroke-width="1"/>
<circle cx="322.47" cy="301.25" r="1.05" fill="#1a1a1a"/>
<line x1="322.47" y1="309.50" x2="322.47" y2="312.00" stroke="#111" stroke-width="0.9"/>
<text transform="translate(324.57,315.00) rotate(-90)" font-size="7.7" text-anchor="end" font-weight="normal" fill="#222" stroke="#222">I186fs</text>
<rect x="329.04" y="307.72" width="4.30" height="1.28" fill="#A30D2B"/>
<line x1="331.19" y1="305.97" x2="331.19" y2="307.72" stroke="#333" stroke-width="1"/>
<line x1="329.29" y1="305.97" x2="333.09" y2="305.97" stroke="#222" stroke-width="1"/>
<circle cx="331.19" cy="302.27" r="1.05" fill="#1a1a1a"/>
<line x1="331.19" y1="309.50" x2="331.19" y2="312.00" stroke="#111" stroke-width="0.9"/>
<text transform="translate(333.29,315.00) rotate(-90)" font-size="7.7" text-anchor="end" font-weight="normal" fill="#222" stroke="#222">P200fs</text>
<rect x="337.76" y="304.31" width="4.30" height="4.69" fill="#A30D2B"/>
<line x1="339.91" y1="298.77" x2="339.91" y2="304.31" stroke="#333" stroke-width="1"/>
<line x1="338.01" y1="298.77" x2="341.81" y2="298.77" stroke="#222" stroke-width="1"/>
<circle cx="339.91" cy="295.07" r="1.05" fill="#1a1a1a"/>
<line x1="339.91" y1="309.50" x2="339.91" y2="312.00" stroke="#111" stroke-width="0.9"/>
<text transform="translate(342.01,315.00) rotate(-90)" font-size="7.7" text-anchor="end" font-weight="normal" fill="#222" stroke="#222">L205fs</text>
<rect x="346.48" y="305.51" width="4.30" height="3.49" fill="#A30D2B"/>
<line x1="348.63" y1="302.19" x2="348.63" y2="305.51" stroke="#333" stroke-width="1"/>
<line x1="346.73" y1="302.19" x2="350.53" y2="302.19" stroke="#222" stroke-width="1"/>
<circle cx="348.63" cy="298.49" r="1.05" fill="#1a1a1a"/>
<line x1="348.63" y1="309.50" x2="348.63" y2="312.00" stroke="#111" stroke-width="0.9"/>
<text transform="translate(350.73,315.00) rotate(-90)" font-size="7.7" text-anchor="end" font-weight="normal" fill="#222" stroke="#222">D337fs</text>
<rect x="355.20" y="305.14" width="4.30" height="3.86" fill="#DB8A1B"/>
<line x1="357.35" y1="302.00" x2="357.35" y2="305.14" stroke="#333" stroke-width="1"/>
<line x1="355.45" y1="302.00" x2="359.25" y2="302.00" stroke="#222" stroke-width="1"/>
<circle cx="357.35" cy="298.30" r="1.05" fill="#1a1a1a"/>
<line x1="357.35" y1="309.50" x2="357.35" y2="312.00" stroke="#111" stroke-width="0.9"/>
<text transform="translate(359.45,315.00) rotate(-90)" font-size="7.7" text-anchor="end" font-weight="normal" fill="#222" stroke="#222">W342X</text>
<rect x="363.92" y="308.74" width="4.30" height="0.26" fill="#DB8A1B"/>
<line x1="366.07" y1="306.15" x2="366.07" y2="308.74" stroke="#333" stroke-width="1"/>
<line x1="364.17" y1="306.15" x2="367.97" y2="306.15" stroke="#222" stroke-width="1"/>
<circle cx="366.07" cy="302.45" r="1.05" fill="#1a1a1a"/>
<line x1="366.07" y1="309.50" x2="366.07" y2="312.00" stroke="#111" stroke-width="0.9"/>
<text transform="translate(368.17,315.00) rotate(-90)" font-size="7.7" text-anchor="end" font-weight="normal" fill="#222" stroke="#222">R359X</text>
<rect x="372.64" y="302.55" width="4.30" height="6.45" fill="#ABBA83"/>
<line x1="374.79" y1="296.65" x2="374.79" y2="302.55" stroke="#333" stroke-width="1"/>
<line x1="372.89" y1="296.65" x2="376.69" y2="296.65" stroke="#222" stroke-width="1"/>
<circle cx="374.79" cy="292.95" r="1.05" fill="#1a1a1a"/>
<line x1="374.79" y1="309.50" x2="374.79" y2="312.00" stroke="#111" stroke-width="0.9"/>
<text transform="translate(376.89,315.00) rotate(-90)" font-size="7.7" text-anchor="end" font-weight="normal" fill="#222" stroke="#222">W360R</text>
<rect x="381.36" y="302.37" width="4.30" height="6.63" fill="#DB8A1B"/>
<line x1="383.51" y1="292.49" x2="383.51" y2="302.37" stroke="#333" stroke-width="1"/>
<line x1="381.61" y1="292.49" x2="385.41" y2="292.49" stroke="#222" stroke-width="1"/>
<circle cx="383.51" cy="288.79" r="1.05" fill="#1a1a1a"/>
<line x1="383.51" y1="309.50" x2="383.51" y2="312.00" stroke="#111" stroke-width="0.9"/>
<text transform="translate(385.61,315.00) rotate(-90)" font-size="7.7" text-anchor="end" font-weight="normal" fill="#222" stroke="#222">E364X</text>
<rect x="390.08" y="265.73" width="4.30" height="43.27" fill="#ABBA83"/>
<line x1="392.23" y1="240.16" x2="392.23" y2="265.73" stroke="#333" stroke-width="1"/>
<line x1="390.33" y1="240.16" x2="394.13" y2="240.16" stroke="#222" stroke-width="1"/>
<circle cx="392.23" cy="236.46" r="1.05" fill="#1a1a1a"/>
<line x1="392.23" y1="309.50" x2="392.23" y2="312.00" stroke="#111" stroke-width="0.9"/>
<text transform="translate(394.33,315.00) rotate(-90)" font-size="7.7" text-anchor="end" font-weight="normal" fill="#222" stroke="#222">F368L</text>
<rect x="398.80" y="295.72" width="4.30" height="13.28" fill="#ABBA83"/>
<line x1="400.95" y1="291.48" x2="400.95" y2="295.72" stroke="#333" stroke-width="1"/>
<line x1="399.05" y1="291.48" x2="402.85" y2="291.48" stroke="#222" stroke-width="1"/>
<circle cx="400.95" cy="287.78" r="1.05" fill="#1a1a1a"/>
<line x1="400.95" y1="309.50" x2="400.95" y2="312.00" stroke="#111" stroke-width="0.9"/>
<text transform="translate(403.05,315.00) rotate(-90)" font-size="7.7" text-anchor="end" font-weight="normal" fill="#222" stroke="#222">R369Q</text>
<rect x="407.52" y="292.59" width="4.30" height="16.41" fill="#ABBA83"/>
<line x1="409.67" y1="281.05" x2="409.67" y2="292.59" stroke="#333" stroke-width="1"/>
<line x1="407.77" y1="281.05" x2="411.57" y2="281.05" stroke="#222" stroke-width="1"/>
<circle cx="409.67" cy="277.35" r="1.05" fill="#1a1a1a"/>
<line x1="409.67" y1="309.50" x2="409.67" y2="312.00" stroke="#111" stroke-width="0.9"/>
<text transform="translate(411.77,315.00) rotate(-90)" font-size="7.7" text-anchor="end" font-weight="normal" fill="#222" stroke="#222">R369W</text>
<rect x="416.24" y="308.28" width="4.30" height="0.72" fill="#ABBA83"/>
<line x1="418.39" y1="307.72" x2="418.39" y2="308.28" stroke="#333" stroke-width="1"/>
<line x1="416.49" y1="307.72" x2="420.29" y2="307.72" stroke="#222" stroke-width="1"/>
<circle cx="418.39" cy="304.02" r="1.05" fill="#1a1a1a"/>
<line x1="418.39" y1="309.50" x2="418.39" y2="312.00" stroke="#111" stroke-width="0.9"/>
<text transform="translate(420.49,315.00) rotate(-90)" font-size="7.7" text-anchor="end" font-weight="normal" fill="#222" stroke="#222">R378P</text>
<rect x="424.96" y="302.83" width="4.30" height="6.17" fill="#DB8A1B"/>
<line x1="427.11" y1="297.20" x2="427.11" y2="302.83" stroke="#333" stroke-width="1"/>
<line x1="425.21" y1="297.20" x2="429.01" y2="297.20" stroke="#222" stroke-width="1"/>
<circle cx="427.11" cy="293.50" r="1.05" fill="#1a1a1a"/>
<line x1="427.11" y1="309.50" x2="427.11" y2="312.00" stroke="#111" stroke-width="0.9"/>
<text transform="translate(429.21,315.00) rotate(-90)" font-size="7.7" text-anchor="end" font-weight="normal" fill="#222" stroke="#222">R378X</text>
<rect x="433.68" y="302.83" width="4.30" height="6.17" fill="#A30D2B"/>
<line x1="435.83" y1="298.22" x2="435.83" y2="302.83" stroke="#333" stroke-width="1"/>
<line x1="433.93" y1="298.22" x2="437.73" y2="298.22" stroke="#222" stroke-width="1"/>
<circle cx="435.83" cy="294.52" r="1.05" fill="#1a1a1a"/>
<line x1="435.83" y1="309.50" x2="435.83" y2="312.00" stroke="#111" stroke-width="0.9"/>
<text transform="translate(437.93,315.00) rotate(-90)" font-size="7.7" text-anchor="end" font-weight="normal" fill="#222" stroke="#222">R386fs</text>
<rect x="442.40" y="289.91" width="4.30" height="19.09" fill="#ABBA83"/>
<line x1="444.55" y1="278.46" x2="444.55" y2="289.91" stroke="#333" stroke-width="1"/>
<line x1="442.65" y1="278.46" x2="446.45" y2="278.46" stroke="#222" stroke-width="1"/>
<circle cx="444.55" cy="274.76" r="1.05" fill="#1a1a1a"/>
<line x1="444.55" y1="309.50" x2="444.55" y2="312.00" stroke="#111" stroke-width="0.9"/>
<text transform="translate(446.65,315.00) rotate(-90)" font-size="7.7" text-anchor="end" font-weight="normal" fill="#222" stroke="#222">M389I</text>
<rect x="451.12" y="299.23" width="4.30" height="9.77" fill="#ABBA83"/>
<line x1="453.27" y1="289.17" x2="453.27" y2="299.23" stroke="#333" stroke-width="1"/>
<line x1="451.37" y1="289.17" x2="455.17" y2="289.17" stroke="#222" stroke-width="1"/>
<circle cx="453.27" cy="285.47" r="1.05" fill="#1a1a1a"/>
<line x1="453.27" y1="309.50" x2="453.27" y2="312.00" stroke="#111" stroke-width="0.9"/>
<text transform="translate(455.37,315.00) rotate(-90)" font-size="7.7" text-anchor="end" font-weight="normal" fill="#222" stroke="#222">T390A</text>
<rect x="459.84" y="288.80" width="4.30" height="20.20" fill="#ABBA83"/>
<line x1="461.99" y1="275.51" x2="461.99" y2="288.80" stroke="#333" stroke-width="1"/>
<line x1="460.09" y1="275.51" x2="463.89" y2="275.51" stroke="#222" stroke-width="1"/>
<circle cx="461.99" cy="271.81" r="1.05" fill="#1a1a1a"/>
<line x1="461.99" y1="309.50" x2="461.99" y2="312.00" stroke="#111" stroke-width="0.9"/>
<text transform="translate(464.09,315.00) rotate(-90)" font-size="7.7" text-anchor="end" font-weight="normal" fill="#222" stroke="#222">A397V</text>
<rect x="468.56" y="302.00" width="4.30" height="7.00" fill="#ABBA83"/>
<line x1="470.71" y1="294.52" x2="470.71" y2="302.00" stroke="#333" stroke-width="1"/>
<line x1="468.81" y1="294.52" x2="472.61" y2="294.52" stroke="#222" stroke-width="1"/>
<circle cx="470.71" cy="290.82" r="1.05" fill="#1a1a1a"/>
<line x1="470.71" y1="309.50" x2="470.71" y2="312.00" stroke="#111" stroke-width="0.9"/>
<text transform="translate(472.81,315.00) rotate(-90)" font-size="7.7" text-anchor="end" font-weight="normal" fill="#222" stroke="#222">L398P</text>
<rect x="477.28" y="282.62" width="4.30" height="26.38" fill="#ABBA83"/>
<line x1="479.43" y1="268.13" x2="479.43" y2="282.62" stroke="#333" stroke-width="1"/>
<line x1="477.53" y1="268.13" x2="481.33" y2="268.13" stroke="#222" stroke-width="1"/>
<circle cx="479.43" cy="264.43" r="1.05" fill="#1a1a1a"/>
<line x1="479.43" y1="309.50" x2="479.43" y2="312.00" stroke="#111" stroke-width="0.9"/>
<text transform="translate(481.53,315.00) rotate(-90)" font-size="7.7" text-anchor="end" font-weight="normal" fill="#222" stroke="#222">R399C</text>
<rect x="486.00" y="282.62" width="4.30" height="26.38" fill="#ABBA83"/>
<line x1="488.15" y1="258.90" x2="488.15" y2="282.62" stroke="#333" stroke-width="1"/>
<line x1="486.25" y1="258.90" x2="490.05" y2="258.90" stroke="#222" stroke-width="1"/>
<circle cx="488.15" cy="255.20" r="1.05" fill="#1a1a1a"/>
<line x1="488.15" y1="309.50" x2="488.15" y2="312.00" stroke="#111" stroke-width="0.9"/>
<text transform="translate(490.25,315.00) rotate(-90)" font-size="7.7" text-anchor="end" font-weight="normal" fill="#222" stroke="#222">R399H</text>
<rect x="494.72" y="242.93" width="4.30" height="66.07" fill="#ABBA83"/>
<line x1="496.87" y1="216.90" x2="496.87" y2="242.93" stroke="#333" stroke-width="1"/>
<line x1="494.97" y1="216.90" x2="498.77" y2="216.90" stroke="#222" stroke-width="1"/>
<line x1="496.87" y1="309.50" x2="496.87" y2="312.00" stroke="#111" stroke-width="0.9"/>
<text transform="translate(498.97,315.00) rotate(-90)" font-size="7.7" text-anchor="end" font-weight="normal" fill="#222" stroke="#222">K403R</text>
<rect x="503.44" y="271.63" width="4.30" height="37.37" fill="#ABBA83"/>
<line x1="505.59" y1="258.34" x2="505.59" y2="271.63" stroke="#333" stroke-width="1"/>
<line x1="503.69" y1="258.34" x2="507.49" y2="258.34" stroke="#222" stroke-width="1"/>
<circle cx="505.59" cy="254.64" r="1.05" fill="#1a1a1a"/>
<line x1="505.59" y1="309.50" x2="505.59" y2="312.00" stroke="#111" stroke-width="0.9"/>
<text transform="translate(507.69,315.00) rotate(-90)" font-size="7.7" text-anchor="end" font-weight="normal" fill="#222" stroke="#222">R433H</text>
<line x1="303.50" y1="309.50" x2="512.60" y2="309.50" stroke="#111" stroke-width="1"/>
<text x="7.60" y="366.40" font-size="11.6" text-anchor="start" font-weight="bold" fill="#000" stroke="none">D</text>
<circle cx="36.50" cy="379.80" r="2.7" fill="#DB8A1B"/>
<text x="47.10" y="382.50" font-size="8.8" text-anchor="start" font-weight="normal" fill="#222" stroke="#222" textLength="32.7" lengthAdjust="spacingAndGlyphs">Nonsense</text>
<circle cx="36.50" cy="390.88" r="2.7" fill="#ABBA83"/>
<text x="47.10" y="393.58" font-size="8.8" text-anchor="start" font-weight="normal" fill="#222" stroke="#222" textLength="29.8" lengthAdjust="spacingAndGlyphs">Missense</text>
<circle cx="36.50" cy="401.96" r="2.7" fill="#A30D2B"/>
<text x="47.10" y="404.66" font-size="8.8" text-anchor="start" font-weight="normal" fill="#222" stroke="#222" textLength="34.6" lengthAdjust="spacingAndGlyphs">Frameshift</text>
<circle cx="36.50" cy="413.04" r="2.7" fill="#2A4A8A"/>
<text x="47.10" y="415.74" font-size="8.8" text-anchor="start" font-weight="normal" fill="#222" stroke="#222" textLength="26" lengthAdjust="spacingAndGlyphs">Splicing</text>
<line x1="29.00" y1="424.40" x2="44.00" y2="424.40" stroke="#333" stroke-width="1"/>
<text x="47.10" y="426.80" font-size="8.8" text-anchor="start" font-weight="normal" fill="#222" stroke="#222" textLength="37.5" lengthAdjust="spacingAndGlyphs">ALL related</text>
<line x1="29.00" y1="435.40" x2="44.00" y2="435.40" stroke="#333" stroke-width="1" stroke-dasharray="2.4 1.9"/>
<text x="47.10" y="437.80" font-size="8.8" text-anchor="start" font-weight="normal" fill="#222" stroke="#222" textLength="30.8" lengthAdjust="spacingAndGlyphs">Common</text>
<rect x="29.5" y="448.5" width="391.6" height="14" fill="#DEDEE0" stroke="#333" stroke-width="1"/>
<rect x="30.5" y="449.5" width="389.6" height="12" fill="none" stroke="#F4F4F6" stroke-width="1"/>
<rect x="77.20" y="449.00" width="59.00" height="13.50" fill="#DB8A1B"/>
<rect x="77.2" y="449" width="59" height="0.8" fill="#C77A12"/>
<rect x="136.20" y="449.00" width="1.40" height="12.50" fill="#F2F2F4"/>
<rect x="320.10" y="449.00" width="1.50" height="12.50" fill="#F2F2F4"/>
<rect x="321.60" y="449.00" width="73.50" height="13.50" fill="#A30D2B"/>
<rect x="395.10" y="449.00" width="1.30" height="12.50" fill="#F2F2F4"/>
<text x="106.70" y="458.30" font-size="7.6" text-anchor="middle" font-weight="normal" fill="#fff" stroke="none">PNT</text>
<text x="358.40" y="458.30" font-size="7.6" text-anchor="middle" font-weight="normal" fill="#fff" stroke="none">ETS</text>
<polyline points="179.50,432.5 190.50,444.6 190.50,448.4" fill="none" stroke="#222" stroke-width="0.95"/>
<line x1="179.50" y1="432.50" x2="179.50" y2="422.00" stroke="#222" stroke-width="1"/>
<polyline points="193.50,432.5 202.50,444.6 202.50,448.4" fill="none" stroke="#222" stroke-width="0.95"/>
<line x1="193.50" y1="432.50" x2="193.50" y2="422.00" stroke="#222" stroke-width="1"/>
<polyline points="206.50,432.5 206.50,444.6 206.50,448.4" fill="none" stroke="#222" stroke-width="0.95"/>
<line x1="206.50" y1="432.50" x2="206.50" y2="422.00" stroke="#222" stroke-width="1"/>
<polyline points="282.50,432.5 321.50,444.6 321.50,448.4" fill="none" stroke="#222" stroke-width="0.95"/>
<line x1="282.50" y1="432.50" x2="282.50" y2="422.00" stroke="#222" stroke-width="1"/>
<polyline points="289.50,432.5 326.50,444.6 326.50,448.4" fill="none" stroke="#222" stroke-width="0.95"/>
<line x1="289.50" y1="432.50" x2="289.50" y2="422.00" stroke="#222" stroke-width="1"/>
<polyline points="303.50,432.5 340.50,444.6 340.50,448.4" fill="none" stroke="#222" stroke-width="0.95"/>
<line x1="303.50" y1="432.50" x2="303.50" y2="422.00" stroke="#222" stroke-width="1"/>
<polyline points="310.50,432.5 341.50,444.6 341.50,448.4" fill="none" stroke="#222" stroke-width="0.95"/>
<line x1="310.50" y1="432.50" x2="310.50" y2="422.00" stroke="#222" stroke-width="1"/>
<polyline points="317.50,432.5 345.50,444.6 345.50,448.4" fill="none" stroke="#222" stroke-width="0.95"/>
<line x1="317.50" y1="432.50" x2="317.50" y2="422.00" stroke="#222" stroke-width="1"/>
<polyline points="324.50,432.5 348.50,444.6 348.50,448.4" fill="none" stroke="#222" stroke-width="0.95"/>
<line x1="324.50" y1="432.50" x2="324.50" y2="422.00" stroke="#222" stroke-width="1"/>
<polyline points="331.50,432.5 349.50,444.6 349.50,448.4" fill="none" stroke="#222" stroke-width="0.95"/>
<line x1="331.50" y1="432.50" x2="331.50" y2="422.00" stroke="#222" stroke-width="1"/>
<polyline points="338.50,432.5 350.50,444.6 350.50,448.4" fill="none" stroke="#222" stroke-width="0.95"/>
<line x1="338.50" y1="432.50" x2="338.50" y2="422.00" stroke="#222" stroke-width="1"/>
<polyline points="344.50,432.5 357.50,444.6 357.50,448.4" fill="none" stroke="#222" stroke-width="0.95"/>
<line x1="344.50" y1="432.50" x2="344.50" y2="422.00" stroke="#222" stroke-width="1"/>
<polyline points="351.50,432.5 357.50,444.6 357.50,448.4" fill="none" stroke="#222" stroke-width="0.95"/>
<line x1="351.50" y1="432.50" x2="351.50" y2="422.00" stroke="#222" stroke-width="1"/>
<polyline points="359.50,432.5 364.50,444.6 364.50,448.4" fill="none" stroke="#222" stroke-width="0.95"/>
<line x1="359.50" y1="432.50" x2="359.50" y2="422.00" stroke="#222" stroke-width="1"/>
<polyline points="366.50,432.5 367.50,444.6 367.50,448.4" fill="none" stroke="#222" stroke-width="0.95"/>
<line x1="366.50" y1="432.50" x2="366.50" y2="422.00" stroke="#222" stroke-width="1"/>
<polyline points="373.50,432.5 368.50,444.6 368.50,448.4" fill="none" stroke="#222" stroke-width="0.95"/>
<line x1="373.50" y1="432.50" x2="373.50" y2="422.00" stroke="#222" stroke-width="1"/>
<polyline points="379.50,432.5 374.50,444.6 374.50,448.4" fill="none" stroke="#222" stroke-width="0.95"/>
<line x1="379.50" y1="432.50" x2="379.50" y2="422.00" stroke="#222" stroke-width="1"/>
<polyline points="386.50,432.5 375.50,444.6 375.50,448.4" fill="none" stroke="#222" stroke-width="0.95"/>
<line x1="386.50" y1="432.50" x2="386.50" y2="422.00" stroke="#222" stroke-width="1"/>
<polyline points="393.50,432.5 375.50,444.6 375.50,448.4" fill="none" stroke="#222" stroke-width="0.95"/>
<line x1="393.50" y1="432.50" x2="393.50" y2="422.00" stroke="#222" stroke-width="1"/>
<polyline points="399.50,432.5 376.50,444.6 376.50,448.4" fill="none" stroke="#222" stroke-width="0.95"/>
<line x1="399.50" y1="432.50" x2="399.50" y2="422.00" stroke="#222" stroke-width="1"/>
<polyline points="408.50,432.5 379.50,444.6 379.50,448.4" fill="none" stroke="#222" stroke-width="0.95"/>
<line x1="408.50" y1="432.50" x2="408.50" y2="422.00" stroke="#222" stroke-width="1"/>
<polyline points="415.50,432.5 392.50,444.6 392.50,448.4" fill="none" stroke="#222" stroke-width="0.95"/>
<line x1="415.50" y1="432.50" x2="415.50" y2="422.00" stroke="#222" stroke-width="1"/>
<polyline points="423.50,432.5 405.50,444.6 405.50,448.4" fill="none" stroke="#222" stroke-width="0.95"/>
<line x1="423.50" y1="432.50" x2="423.50" y2="422.00" stroke="#222" stroke-width="1"/>
<circle cx="179.50" cy="432.50" r="2.4" fill="#A30D2B"/>
<text transform="translate(182.30,419.40) rotate(-90)" font-size="8.6" text-anchor="start" font-weight="normal" fill="#222" stroke="#222" textLength="20.29" lengthAdjust="spacingAndGlyphs">I186fs</text>
<circle cx="193.50" cy="432.50" r="2.4" fill="#A30D2B"/>
<text transform="translate(196.30,419.40) rotate(-90)" font-size="8.6" text-anchor="start" font-weight="normal" fill="#222" stroke="#222" textLength="23.19" lengthAdjust="spacingAndGlyphs">P200fs</text>
<circle cx="206.50" cy="432.50" r="2.4" fill="#A30D2B"/>
<text transform="translate(209.30,419.40) rotate(-90)" font-size="8.6" text-anchor="start" font-weight="normal" fill="#222" stroke="#222" textLength="22.37" lengthAdjust="spacingAndGlyphs">L205fs</text>
<circle cx="282.50" cy="432.50" r="2.4" fill="#A30D2B"/>
<text transform="translate(285.30,419.40) rotate(-90)" font-size="8.6" text-anchor="start" font-weight="normal" fill="#222" stroke="#222" textLength="23.6" lengthAdjust="spacingAndGlyphs">D337fs</text>
<circle cx="289.50" cy="432.50" r="2.4" fill="#DB8A1B"/>
<text transform="translate(292.30,419.40) rotate(-90)" font-size="8.6" text-anchor="start" font-weight="normal" fill="#222" stroke="#222" textLength="24.43" lengthAdjust="spacingAndGlyphs">W342X</text>
<circle cx="303.50" cy="432.50" r="2.4" fill="#DB8A1B"/>
<text transform="translate(306.30,419.40) rotate(-90)" font-size="8.6" text-anchor="start" font-weight="normal" fill="#222" stroke="#222" textLength="22.78" lengthAdjust="spacingAndGlyphs">R359X</text>
<circle cx="310.50" cy="432.50" r="2.4" fill="#ABBA83"/>
<text transform="translate(313.30,419.40) rotate(-90)" font-size="8.6" text-anchor="start" font-weight="normal" fill="#222" stroke="#222" textLength="24.84" lengthAdjust="spacingAndGlyphs">W360R</text>
<circle cx="317.50" cy="432.50" r="2.4" fill="#DB8A1B"/>
<text transform="translate(320.30,419.40) rotate(-90)" font-size="8.6" text-anchor="start" font-weight="normal" fill="#222" stroke="#222" textLength="22.37" lengthAdjust="spacingAndGlyphs">E364X</text>
<circle cx="324.50" cy="432.50" r="2.4" fill="#ABBA83"/>
<text transform="translate(327.30,419.40) rotate(-90)" font-size="8.6" text-anchor="start" font-weight="normal" fill="#222" stroke="#222" textLength="21.12" lengthAdjust="spacingAndGlyphs">F368L</text>
<circle cx="331.50" cy="432.50" r="2.4" fill="#ABBA83"/>
<text transform="translate(334.30,419.40) rotate(-90)" font-size="8.6" text-anchor="start" font-weight="normal" fill="#222" stroke="#222" textLength="23.6" lengthAdjust="spacingAndGlyphs">R369Q</text>
<circle cx="338.50" cy="432.50" r="2.4" fill="#ABBA83"/>
<text transform="translate(341.30,419.40) rotate(-90)" font-size="8.6" text-anchor="start" font-weight="normal" fill="#222" stroke="#222" textLength="24.84" lengthAdjust="spacingAndGlyphs">R369W</text>
<circle cx="344.50" cy="432.50" r="2.4" fill="#ABBA83"/>
<text transform="translate(347.30,419.40) rotate(-90)" font-size="8.6" text-anchor="start" font-weight="normal" fill="#222" stroke="#222" textLength="22.78" lengthAdjust="spacingAndGlyphs">R378P</text>
<circle cx="351.50" cy="432.50" r="2.4" fill="#DB8A1B"/>
<text transform="translate(354.30,419.40) rotate(-90)" font-size="8.6" text-anchor="start" font-weight="normal" fill="#222" stroke="#222" textLength="22.78" lengthAdjust="spacingAndGlyphs">R378X</text>
<circle cx="359.50" cy="432.50" r="2.4" fill="#A30D2B"/>
<text transform="translate(362.30,419.40) rotate(-90)" font-size="8.6" text-anchor="start" font-weight="normal" fill="#222" stroke="#222" textLength="23.6" lengthAdjust="spacingAndGlyphs">R386fs</text>
<circle cx="366.50" cy="432.50" r="2.4" fill="#ABBA83"/>
<text transform="translate(369.30,419.40) rotate(-90)" font-size="8.6" text-anchor="start" font-weight="normal" fill="#222" stroke="#222" textLength="20.7" lengthAdjust="spacingAndGlyphs">M389I</text>
<circle cx="373.50" cy="432.50" r="2.4" fill="#ABBA83"/>
<text transform="translate(376.30,419.40) rotate(-90)" font-size="8.6" text-anchor="start" font-weight="normal" fill="#222" stroke="#222" textLength="21.95" lengthAdjust="spacingAndGlyphs">T390A</text>
<circle cx="379.50" cy="432.50" r="2.4" fill="#ABBA83"/>
<text transform="translate(382.30,419.40) rotate(-90)" font-size="8.6" text-anchor="start" font-weight="normal" fill="#222" stroke="#222" textLength="22.37" lengthAdjust="spacingAndGlyphs">A397V</text>
<circle cx="386.50" cy="432.50" r="2.4" fill="#ABBA83"/>
<text transform="translate(389.30,419.40) rotate(-90)" font-size="8.6" text-anchor="start" font-weight="normal" fill="#222" stroke="#222" textLength="21.54" lengthAdjust="spacingAndGlyphs">L398P</text>
<circle cx="393.50" cy="432.50" r="2.4" fill="#ABBA83"/>
<text transform="translate(396.30,419.40) rotate(-90)" font-size="8.6" text-anchor="start" font-weight="normal" fill="#222" stroke="#222" textLength="23.19" lengthAdjust="spacingAndGlyphs">R399C</text>
<circle cx="399.50" cy="432.50" r="2.4" fill="#ABBA83"/>
<text transform="translate(402.30,419.40) rotate(-90)" font-size="8.6" text-anchor="start" font-weight="normal" fill="#222" stroke="#222" textLength="23.19" lengthAdjust="spacingAndGlyphs">R399H</text>
<circle cx="408.50" cy="432.50" r="2.4" fill="#ABBA83"/>
<text transform="translate(411.30,419.40) rotate(-90)" font-size="8.6" text-anchor="start" font-weight="normal" fill="#222" stroke="#222" textLength="22.78" lengthAdjust="spacingAndGlyphs">K403R</text>
<circle cx="415.50" cy="432.50" r="2.4" fill="#2A4A8A"/>
<text transform="translate(418.30,419.40) rotate(-90)" font-size="8.6" text-anchor="start" font-weight="normal" fill="#222" stroke="#222" textLength="49.28" lengthAdjust="spacingAndGlyphs">F419_E8splice</text>
<circle cx="423.50" cy="432.50" r="2.4" fill="#ABBA83"/>
<text transform="translate(426.30,419.40) rotate(-90)" font-size="8.6" text-anchor="start" font-weight="normal" fill="#222" stroke="#222" textLength="23.19" lengthAdjust="spacingAndGlyphs">R433H</text>
<text x="434.20" y="416.30" font-size="8.8" text-anchor="start" font-weight="normal" fill="#222" stroke="#222" textLength="37" lengthAdjust="spacingAndGlyphs">Damaging</text>
<line x1="431.50" y1="419.60" x2="475.60" y2="419.60" stroke="#333" stroke-width="1"/>
<polyline points="37.50,462.8 37.50,464.4 19.50,478.2" fill="none" stroke="#222" stroke-width="1" stroke-dasharray="2.1 2.1" stroke-dashoffset="1.2"/>
<line x1="19.50" y1="478.2" x2="19.50" y2="489.3" stroke="#222" stroke-width="1" stroke-dasharray="2.1 2.1" stroke-dashoffset="4.0"/>
<polyline points="43.50,462.8 43.50,466.3 26.50,478.2" fill="none" stroke="#222" stroke-width="0.95"/>
<line x1="26.50" y1="478.20" x2="26.50" y2="489.00" stroke="#222" stroke-width="1"/>
<polyline points="51.50,462.8 51.50,466.3 33.50,478.2" fill="none" stroke="#222" stroke-width="0.95"/>
<line x1="33.50" y1="478.20" x2="33.50" y2="489.00" stroke="#222" stroke-width="1"/>
<polyline points="51.50,462.8 51.50,466.3 40.50,478.2" fill="none" stroke="#222" stroke-width="1" stroke-dasharray="2.1 2.1" stroke-dashoffset="1.2"/>
<line x1="40.50" y1="478.2" x2="40.50" y2="489.3" stroke="#222" stroke-width="1" stroke-dasharray="2.1 2.1" stroke-dashoffset="4.0"/>
<polyline points="61.50,462.8 61.50,464.4 47.50,478.2" fill="none" stroke="#222" stroke-width="0.95"/>
<line x1="47.50" y1="478.20" x2="47.50" y2="489.00" stroke="#222" stroke-width="1"/>
<polyline points="63.50,462.8 63.50,464.4 54.50,478.2" fill="none" stroke="#222" stroke-width="1" stroke-dasharray="2.1 2.1" stroke-dashoffset="1.2"/>
<line x1="54.50" y1="478.2" x2="54.50" y2="489.3" stroke="#222" stroke-width="1" stroke-dasharray="2.1 2.1" stroke-dashoffset="4.0"/>
<polyline points="67.50,462.8 67.50,464.4 61.50,478.2" fill="none" stroke="#222" stroke-width="0.95"/>
<line x1="61.50" y1="478.20" x2="61.50" y2="489.00" stroke="#222" stroke-width="1"/>
<polyline points="69.50,462.8 69.50,464.4 68.50,478.2" fill="none" stroke="#222" stroke-width="0.95"/>
<line x1="68.50" y1="478.20" x2="68.50" y2="489.00" stroke="#222" stroke-width="1"/>
<polyline points="71.50,462.8 71.50,464.4 75.50,478.2" fill="none" stroke="#222" stroke-width="0.95"/>
<line x1="75.50" y1="478.20" x2="75.50" y2="489.00" stroke="#222" stroke-width="1"/>
<polyline points="74.50,462.8 74.50,464.4 82.50,478.2" fill="none" stroke="#222" stroke-width="0.95"/>
<line x1="82.50" y1="478.20" x2="82.50" y2="489.00" stroke="#222" stroke-width="1"/>
<polyline points="88.50,462.8 88.50,464.4 89.50,478.2" fill="none" stroke="#222" stroke-width="0.95"/>
<line x1="89.50" y1="478.20" x2="89.50" y2="489.00" stroke="#222" stroke-width="1"/>
<polyline points="142.50,462.8 142.50,464.4 142.50,478.2" fill="none" stroke="#222" stroke-width="1" stroke-dasharray="2.1 2.1" stroke-dashoffset="1.2"/>
<line x1="142.50" y1="478.2" x2="142.50" y2="489.3" stroke="#222" stroke-width="1" stroke-dasharray="2.1 2.1" stroke-dashoffset="4.0"/>
<polyline points="176.50,462.8 176.50,464.4 176.50,478.2" fill="none" stroke="#222" stroke-width="1" stroke-dasharray="2.1 2.1" stroke-dashoffset="1.2"/>
<line x1="176.50" y1="478.2" x2="176.50" y2="489.3" stroke="#222" stroke-width="1" stroke-dasharray="2.1 2.1" stroke-dashoffset="4.0"/>
<polyline points="189.50,462.8 189.50,464.4 189.50,478.2" fill="none" stroke="#222" stroke-width="1" stroke-dasharray="2.1 2.1" stroke-dashoffset="1.2"/>
<line x1="189.50" y1="478.2" x2="189.50" y2="489.3" stroke="#222" stroke-width="1" stroke-dasharray="2.1 2.1" stroke-dashoffset="4.0"/>
<polyline points="202.50,462.8 202.50,466.3 196.50,478.2" fill="none" stroke="#222" stroke-width="0.95"/>
<line x1="196.50" y1="478.20" x2="196.50" y2="489.00" stroke="#222" stroke-width="1"/>
<polyline points="203.50,462.8 203.50,464.4 203.50,478.2" fill="none" stroke="#222" stroke-width="1" stroke-dasharray="2.1 2.1" stroke-dashoffset="1.2"/>
<line x1="203.50" y1="478.2" x2="203.50" y2="489.3" stroke="#222" stroke-width="1" stroke-dasharray="2.1 2.1" stroke-dashoffset="4.0"/>
<polyline points="204.50,462.8 204.50,466.3 210.50,478.2" fill="none" stroke="#222" stroke-width="1" stroke-dasharray="2.1 2.1" stroke-dashoffset="1.2"/>
<line x1="210.50" y1="478.2" x2="210.50" y2="489.3" stroke="#222" stroke-width="1" stroke-dasharray="2.1 2.1" stroke-dashoffset="4.0"/>
<polyline points="225.50,462.8 225.50,464.4 225.50,478.2" fill="none" stroke="#222" stroke-width="1" stroke-dasharray="2.1 2.1" stroke-dashoffset="1.2"/>
<line x1="225.50" y1="478.2" x2="225.50" y2="489.3" stroke="#222" stroke-width="1" stroke-dasharray="2.1 2.1" stroke-dashoffset="4.0"/>
<polyline points="253.50,462.8 253.50,464.4 253.50,478.2" fill="none" stroke="#222" stroke-width="0.95"/>
<line x1="253.50" y1="478.20" x2="253.50" y2="489.00" stroke="#222" stroke-width="1"/>
<polyline points="284.50,462.8 284.50,464.4 284.50,478.2" fill="none" stroke="#222" stroke-width="1" stroke-dasharray="2.1 2.1" stroke-dashoffset="1.2"/>
<line x1="284.50" y1="478.2" x2="284.50" y2="489.3" stroke="#222" stroke-width="1" stroke-dasharray="2.1 2.1" stroke-dashoffset="4.0"/>
<polyline points="317.50,462.8 317.50,464.4 317.50,478.2" fill="none" stroke="#222" stroke-width="1" stroke-dasharray="2.1 2.1" stroke-dashoffset="1.2"/>
<line x1="317.50" y1="478.2" x2="317.50" y2="489.3" stroke="#222" stroke-width="1" stroke-dasharray="2.1 2.1" stroke-dashoffset="4.0"/>
<polyline points="338.50,462.8 338.50,464.4 338.50,478.2" fill="none" stroke="#222" stroke-width="0.95"/>
<line x1="338.50" y1="478.20" x2="338.50" y2="489.00" stroke="#222" stroke-width="1"/>
<polyline points="359.50,462.8 359.50,464.4 359.50,478.2" fill="none" stroke="#222" stroke-width="1" stroke-dasharray="2.1 2.1" stroke-dashoffset="1.2"/>
<line x1="359.50" y1="478.2" x2="359.50" y2="489.3" stroke="#222" stroke-width="1" stroke-dasharray="2.1 2.1" stroke-dashoffset="4.0"/>
<polyline points="412.50,462.8 412.50,466.3 421.50,478.2" fill="none" stroke="#222" stroke-width="0.95"/>
<line x1="421.50" y1="478.20" x2="421.50" y2="489.00" stroke="#222" stroke-width="1"/>
<circle cx="19.50" cy="478.20" r="2.45" fill="#ABBA83"/>
<text transform="translate(22.30,491.60) rotate(-90)" font-size="8.6" text-anchor="end" font-weight="normal" fill="#222" stroke="#222" textLength="14.69" lengthAdjust="spacingAndGlyphs">S9R</text>
<circle cx="26.50" cy="478.20" r="2.45" fill="#ABBA83"/>
<text transform="translate(29.30,491.60) rotate(-90)" font-size="8.6" text-anchor="end" font-weight="normal" fill="#222" stroke="#222" textLength="18.04" lengthAdjust="spacingAndGlyphs">S16T</text>
<circle cx="33.50" cy="478.20" r="2.45" fill="#ABBA83"/>
<text transform="translate(36.30,491.60) rotate(-90)" font-size="8.6" text-anchor="end" font-weight="normal" fill="#222" stroke="#222" textLength="19.31" lengthAdjust="spacingAndGlyphs">P25Q</text>
<circle cx="40.50" cy="478.20" r="2.45" fill="#ABBA83"/>
<text transform="translate(43.30,491.60) rotate(-90)" font-size="8.6" text-anchor="end" font-weight="normal" fill="#222" stroke="#222" textLength="18.04" lengthAdjust="spacingAndGlyphs">S26T</text>
<circle cx="47.50" cy="478.20" r="2.45" fill="#ABBA83"/>
<text transform="translate(50.30,491.60) rotate(-90)" font-size="8.6" text-anchor="end" font-weight="normal" fill="#222" stroke="#222" textLength="19.72" lengthAdjust="spacingAndGlyphs">V37M</text>
<circle cx="54.50" cy="478.20" r="2.45" fill="#ABBA83"/>
<text transform="translate(57.30,491.60) rotate(-90)" font-size="8.6" text-anchor="end" font-weight="normal" fill="#222" stroke="#222" textLength="18.47" lengthAdjust="spacingAndGlyphs">A40V</text>
<circle cx="61.50" cy="478.20" r="2.45" fill="#A30D2B"/>
<text transform="translate(64.30,491.60) rotate(-90)" font-size="8.6" text-anchor="end" font-weight="normal" fill="#222" stroke="#222" textLength="19.31" lengthAdjust="spacingAndGlyphs">E44fs</text>
<circle cx="68.50" cy="478.20" r="2.45" fill="#ABBA83"/>
<text transform="translate(71.30,491.60) rotate(-90)" font-size="8.6" text-anchor="end" font-weight="normal" fill="#222" stroke="#222" textLength="17.63" lengthAdjust="spacingAndGlyphs">S47L</text>
<circle cx="75.50" cy="478.20" r="2.45" fill="#ABBA83"/>
<text transform="translate(78.30,491.60) rotate(-90)" font-size="8.6" text-anchor="end" font-weight="normal" fill="#222" stroke="#222" textLength="19.3" lengthAdjust="spacingAndGlyphs">R49C</text>
<circle cx="82.50" cy="478.20" r="2.45" fill="#ABBA83"/>
<text transform="translate(85.30,491.60) rotate(-90)" font-size="8.6" text-anchor="end" font-weight="normal" fill="#222" stroke="#222" textLength="18.89" lengthAdjust="spacingAndGlyphs">H53Y</text>
<circle cx="89.50" cy="478.20" r="2.45" fill="#ABBA83"/>
<text transform="translate(92.30,491.60) rotate(-90)" font-size="8.6" text-anchor="end" font-weight="normal" fill="#222" stroke="#222" textLength="19.72" lengthAdjust="spacingAndGlyphs">Q68H</text>
<circle cx="142.50" cy="478.20" r="2.45" fill="#ABBA83"/>
<text transform="translate(145.30,491.60) rotate(-90)" font-size="8.6" text-anchor="end" font-weight="normal" fill="#222" stroke="#222" textLength="23.92" lengthAdjust="spacingAndGlyphs">R127Q</text>
<circle cx="176.50" cy="478.20" r="2.45" fill="#ABBA83"/>
<text transform="translate(179.30,491.60) rotate(-90)" font-size="8.6" text-anchor="end" font-weight="normal" fill="#222" stroke="#222" textLength="23.92" lengthAdjust="spacingAndGlyphs">V166M</text>
<circle cx="189.50" cy="478.20" r="2.45" fill="#ABBA83"/>
<text transform="translate(192.30,491.60) rotate(-90)" font-size="8.6" text-anchor="end" font-weight="normal" fill="#222" stroke="#222" textLength="23.5" lengthAdjust="spacingAndGlyphs">R181H</text>
<circle cx="196.50" cy="478.20" r="2.45" fill="#ABBA83"/>
<text transform="translate(199.30,491.60) rotate(-90)" font-size="8.6" text-anchor="end" font-weight="normal" fill="#222" stroke="#222" textLength="23.92" lengthAdjust="spacingAndGlyphs">R199Q</text>
<circle cx="203.50" cy="478.20" r="2.45" fill="#ABBA83"/>
<text transform="translate(206.30,491.60) rotate(-90)" font-size="8.6" text-anchor="end" font-weight="normal" fill="#222" stroke="#222" textLength="21.83" lengthAdjust="spacingAndGlyphs">L201P</text>
<circle cx="210.50" cy="478.20" r="2.45" fill="#ABBA83"/>
<text transform="translate(213.30,491.60) rotate(-90)" font-size="8.6" text-anchor="end" font-weight="normal" fill="#222" stroke="#222" textLength="23.92" lengthAdjust="spacingAndGlyphs">R202Q</text>
<circle cx="225.50" cy="478.20" r="2.45" fill="#ABBA83"/>
<text transform="translate(228.30,491.60) rotate(-90)" font-size="8.6" text-anchor="end" font-weight="normal" fill="#222" stroke="#222" textLength="21.83" lengthAdjust="spacingAndGlyphs">P223L</text>
<circle cx="253.50" cy="478.20" r="2.45" fill="#ABBA83"/>
<text transform="translate(256.30,491.60) rotate(-90)" font-size="8.6" text-anchor="end" font-weight="normal" fill="#222" stroke="#222" textLength="23.92" lengthAdjust="spacingAndGlyphs">R259Q</text>
<circle cx="284.50" cy="478.20" r="2.45" fill="#ABBA83"/>
<text transform="translate(287.30,491.60) rotate(-90)" font-size="8.6" text-anchor="end" font-weight="normal" fill="#222" stroke="#222" textLength="23.08" lengthAdjust="spacingAndGlyphs">R291K</text>
<circle cx="317.50" cy="478.20" r="2.45" fill="#ABBA83"/>
<text transform="translate(320.30,491.60) rotate(-90)" font-size="8.6" text-anchor="end" font-weight="normal" fill="#222" stroke="#222" textLength="22.24" lengthAdjust="spacingAndGlyphs">A329T</text>
<circle cx="338.50" cy="478.20" r="2.45" fill="#ABBA83"/>
<text transform="translate(341.30,491.60) rotate(-90)" font-size="8.6" text-anchor="end" font-weight="normal" fill="#222" stroke="#222" textLength="23.92" lengthAdjust="spacingAndGlyphs">R353Q</text>
<circle cx="359.50" cy="478.20" r="2.45" fill="#ABBA83"/>
<text transform="translate(362.30,491.60) rotate(-90)" font-size="8.6" text-anchor="end" font-weight="normal" fill="#222" stroke="#222" textLength="23.92" lengthAdjust="spacingAndGlyphs">R378Q</text>
<circle cx="421.50" cy="478.20" r="2.45" fill="#ABBA83"/>
<text transform="translate(424.30,491.60) rotate(-90)" font-size="8.6" text-anchor="end" font-weight="normal" fill="#222" stroke="#222" textLength="21.83" lengthAdjust="spacingAndGlyphs">L442P</text>
<text x="440.00" y="494.50" font-size="8.8" text-anchor="start" font-weight="normal" fill="#222" stroke="#222" textLength="26.4" lengthAdjust="spacingAndGlyphs">WT like</text>
<line x1="432.20" y1="497.40" x2="476.60" y2="497.40" stroke="#333" stroke-width="1"/>
<rect x="0.5" y="0.5" width="519" height="523" fill="none" stroke="#000" stroke-width="1.2"/>
</svg>
</body></html>
